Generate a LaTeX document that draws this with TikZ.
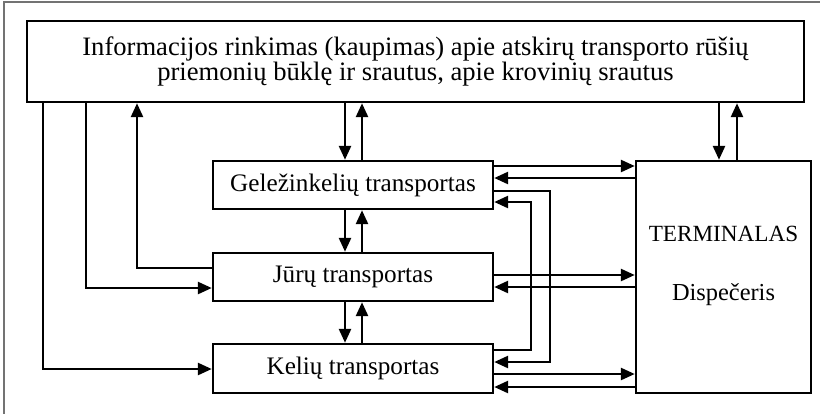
\documentclass[tikz,border=0pt]{standalone}
\usepackage{fontspec}
\setmainfont{Liberation Serif}
\usetikzlibrary{arrows.meta}
\begin{document}
\begin{tikzpicture}[x=0.5pt,y=-0.5pt,
  box/.style={draw, line width=1.2pt, inner sep=0pt, font=\fontsize{12.6}{12.5}\selectfont, align=center},
  arr/.style={line width=1.3pt, -{Triangle[length=7pt,width=6pt]}},
  txt/.style={anchor=base, inner sep=0pt},
  framec/.style={draw=black!55, line width=0.6pt}]
\useasboundingbox (0,0) rectangle (820,414);
\draw[framec] (820,2) -- (4,2) -- (4,414);
% boxes
\node[box, minimum width=388.5pt, minimum height=40.5pt, font=\fontsize{13.3}{12.5}\selectfont] (top) at (415.5,61.5)
  {Informacijos rinkimas (kaupimas) apie atskirų transporto rūšių\\priemonių būklę ir srautus, apie krovinių srautus};
\node[box, minimum width=140pt, minimum height=24pt] (gel) at (353,185) {Geležinkelių transportas};
\node[box, minimum width=140pt, minimum height=24pt] (jur) at (353,277) {Jūrų transportas};
\node[box, minimum width=140pt, minimum height=24.5pt] (kel) at (353,368.5) {Kelių transportas};
\node[box, minimum width=87.5pt, minimum height=116pt] (term) at (723.5,277) {};
\node[txt, font=\fontsize{11.6}{14}\selectfont] (t1) at (723.5,241) {TERMINALAS};
\node[txt, font=\fontsize{12.2}{14}\selectfont] (t2) at (723.5,300) {Dispečeris};
% helper coordinates
\coordinate (xL1) at (43,0);
\coordinate (xL2) at (86,0);
\coordinate (xL3) at (137,0);
\coordinate (xd) at (345,0);
\coordinate (xu) at (362,0);
\coordinate (xc1) at (531,0);
\coordinate (xc2) at (550,0);
\coordinate (xtd) at (719,0);
\coordinate (xtu) at (737,0);
\coordinate (yg1) at (0,166);
\coordinate (yg2) at (0,178);
\coordinate (yj1) at (0,275);
\coordinate (yj2) at (0,287);
\coordinate (yk1) at (0,374);
\coordinate (yk2) at (0,387);
\coordinate (ygc) at (0,191);
\coordinate (ygk) at (0,202);
\coordinate (ykc) at (0,350);
\coordinate (ykk) at (0,362);
\coordinate (yj3) at (0,268);
\coordinate (yj4) at (0,288);
\coordinate (yk3) at (0,369);
% vertical pairs
\draw[arr] (xd |- top.south) -- (xd |- gel.north);
\draw[arr] (xu |- gel.north) -- (xu |- top.south);
\draw[arr] (xd |- gel.south) -- (xd |- jur.north);
\draw[arr] (xu |- jur.north) -- (xu |- gel.south);
\draw[arr] (xd |- jur.south) -- (xd |- kel.north);
\draw[arr] (xu |- kel.north) -- (xu |- jur.south);
\draw[arr] (xtd |- top.south) -- (xtd |- term.north);
\draw[arr] (xtu |- term.north) -- (xtu |- top.south);
% horizontal pairs to terminal
\draw[arr] (gel.east |- yg1) -- (term.west |- yg1);
\draw[arr] (term.west |- yg2) -- (gel.east |- yg2);
\draw[arr] (jur.east |- yj1) -- (term.west |- yj1);
\draw[arr] (term.west |- yj2) -- (jur.east |- yj2);
\draw[arr] (kel.east |- yk1) -- (term.west |- yk1);
\draw[arr] (term.west |- yk2) -- (kel.east |- yk2);
% cross links
\draw[arr] (gel.east |- ygc) -| (xc2 |- ykk) -- (kel.east |- ykk);
\draw[arr] (kel.east |- ykc) -| (xc1 |- ygk) -- (gel.east |- ygk);
% left side
\draw[arr] (xL1 |- top.south) |- (kel.west |- yk3);
\draw[arr] (xL2 |- top.south) |- (jur.west |- yj4);
\draw[arr] (jur.west |- yj3) -| (xL3 |- top.south);
\end{tikzpicture}
\end{document}
